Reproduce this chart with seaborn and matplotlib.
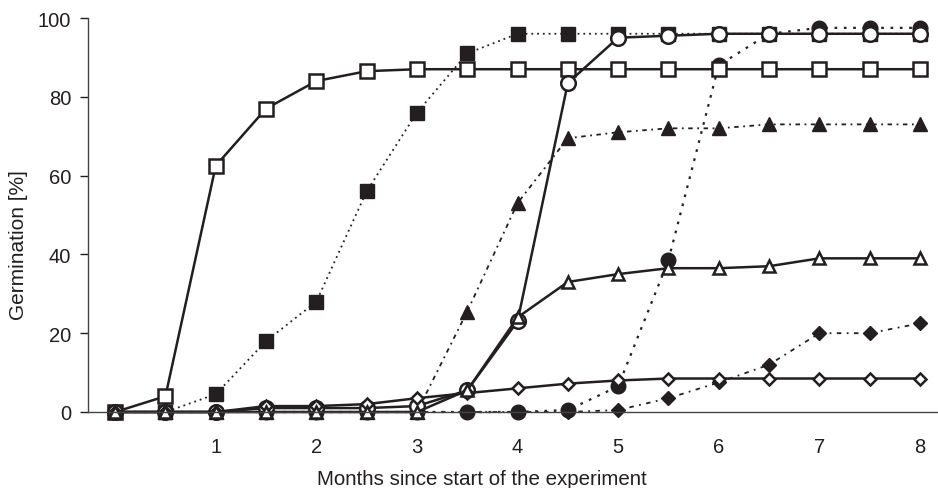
import matplotlib
matplotlib.use("Agg")
import matplotlib.pyplot as plt
import seaborn as sns
import pandas as pd

months = [0, 0.5, 1, 1.5, 2, 2.5, 3, 3.5, 4, 4.5, 5, 5.5, 6, 6.5, 7, 7.5, 8]

open_square = [0, 4, 62.5, 77, 84, 86.5, 87, 87, 87, 87, 87, 87, 87, 87, 87, 87, 87]
filled_square = [0, 0, 4.5, 18, 28, 56, 76, 91, 96, 96, 96, 96, 96, 96, 96, 96, 96]
open_circle = [0, 0, 0, 1, 1, 1, 1.5, 5.5, 23, 83.5, 95, 95.5, 96, 96, 96, 96, 96]
filled_circle = [0, 0, 0, 0, 0, 0, 0, 0, 0, 0.5, 6.5, 38.5, 88, 96, 97.5, 97.5, 97.5]
open_triangle = [0, 0, 0, 0, 0, 0, 0, 5.5, 24, 33, 35, 36.5, 36.5, 37, 39, 39, 39]
open_diamond = [0, 0, 0, 1.5, 1.5, 2, 3.5, 4.8, 6, 7.2, 8, 8.5, 8.5, 8.5, 8.5, 8.5, 8.5]
filled_diamond = [0, 0, 0, 0, 0, 0, 0, 0, 0, 0, 0.5, 3.5, 7.5, 12, 20, 20, 22.5]
filled_triangle = [0, 0, 0, 0, 0, 0, 0, 25.5, 53, 69.5, 71, 72, 72, 73, 73, 73, 73]

x_ticks = [1, 2, 3, 4, 5, 6, 7, 8]
y_ticks = [0, 20, 40, 60, 80, 100]
x_label = "Months since start of the experiment"
y_label = "Germination [%]"

sns.set_theme(style="ticks")
plt.rcParams["font.family"] = ["Liberation Sans", "DejaVu Sans"]

INK = "#231f20"
fig = plt.figure(figsize=(9.38, 4.89), dpi=100)
ax = fig.add_axes([88 / 938, 76 / 489, (937 - 88) / 938, (413 - 19) / 489])

series = [
    # (values, marker, fill, linestyle, size, lw)
    (filled_square, "s", True, (0, (1, 2.2)), 10, 1.3),
    (filled_circle, "o", True, (0, (1.2, 3.0)), 10.5, 1.6),
    (filled_triangle, "^", True, (0, (2.5, 2.5, 1, 2.5)), 9.5, 1.3),
    (filled_diamond, "D", True, (0, (2.5, 3, 1, 3)), 7.5, 1.3),
    (open_square, "s", False, "-", 10, 1.8),
    (open_circle, "o", False, "-", 10.5, 1.8),
    (open_diamond, "D", False, "-", 6.5, 1.8),
    (open_triangle, "^", False, "-", 9, 1.8),
]

for vals, mk, filled, ls, ms, lw in series:
    df = pd.DataFrame({"month": months, "germ": vals})
    sns.lineplot(
        data=df, x="month", y="germ", ax=ax,
        color=INK, linestyle=ls, linewidth=lw,
        marker=mk, markersize=ms,
        markerfacecolor=INK if filled else "white",
        markeredgecolor=INK, markeredgewidth=1.8 if not filled else 1.0,
        clip_on=False, legend=False,
    )

ax.set_xlim(-0.27, 8.17)
ax.set_ylim(0, 100)
ax.set_xticks(x_ticks)
ax.set_yticks(y_ticks)
ax.tick_params(axis="x", length=0, pad=18, labelsize=14.5, colors=INK)
ax.tick_params(axis="y", length=6, width=1, pad=6, labelsize=14.5, colors=INK)
for s in ["top", "right"]:
    ax.spines[s].set_visible(False)
for s in ["left", "bottom"]:
    ax.spines[s].set_color("#444444")
    ax.spines[s].set_linewidth(1.0)
ax.set_xlabel(x_label, fontsize=14.8, color=INK)
ax.set_ylabel(y_label, fontsize=15, color=INK)
ax.xaxis.set_label_coords(0.464, -0.145)
ax.yaxis.set_label_coords(-0.071, 0.426)
ax.grid(False)

fig.savefig("out.png", dpi=100)
